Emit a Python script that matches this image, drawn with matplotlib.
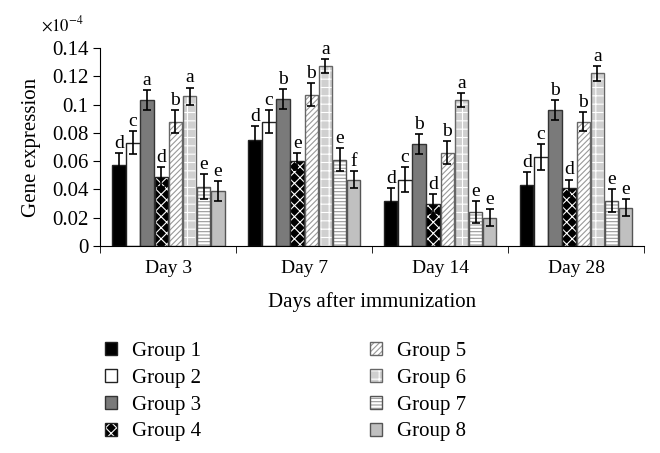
import numpy as np
import matplotlib
matplotlib.use("Agg")
import matplotlib.pyplot as plt
from matplotlib.patches import Patch

plt.rcParams['font.family'] = ['Liberation Serif', 'DejaVu Serif']
plt.rcParams['mathtext.fontset'] = 'stix'
plt.rcParams['hatch.linewidth'] = 0.8

# data (x 1e-4)
days = ["Day 3", "Day 7", "Day 14", "Day 28"]
groups = ["Group 1", "Group 2", "Group 3", "Group 4",
          "Group 5", "Group 6", "Group 7", "Group 8"]

means = [
    [0.057, 0.075, 0.032, 0.043],   # group 1
    [0.073, 0.088, 0.047, 0.063],   # group 2
    [0.103, 0.104, 0.072, 0.096],   # group 3
    [0.049, 0.060, 0.030, 0.041],   # group 4
    [0.088, 0.107, 0.066, 0.088],   # group 5
    [0.106, 0.127, 0.103, 0.122],   # group 6
    [0.042, 0.061, 0.024, 0.032],   # group 7
    [0.039, 0.047, 0.020, 0.027],   # group 8
]
errs = [
    [0.009, 0.010, 0.009, 0.009],
    [0.008, 0.008, 0.009, 0.009],
    [0.007, 0.007, 0.007, 0.007],
    [0.007, 0.006, 0.007, 0.006],
    [0.008, 0.008, 0.008, 0.007],
    [0.006, 0.005, 0.005, 0.005],
    [0.009, 0.008, 0.008, 0.008],
    [0.007, 0.006, 0.006, 0.006],
]
letters = [
    ["d", "d", "d", "d"],
    ["c", "c", "c", "c"],
    ["a", "b", "b", "b"],
    ["d", "e", "d", "d"],
    ["b", "b", "b", "b"],
    ["a", "a", "a", "a"],
    ["e", "e", "e", "e"],
    ["e", "f", "e", "e"],
]
yticks = [0, 0.02, 0.04, 0.06, 0.08, 0.1, 0.12, 0.14]
ytick_labels = ["0", "0.02", "0.04", "0.06", "0.08", "0.1", "0.12", "0.14"]

# styles: face, edge, hatch, hatch colour
styles = [
    ("black", "#222222", None, None),
    ("white", "#222222", None, None),
    ("#7a7a7a", "#333333", None, None),
    ("black", "#222222", "xxx", "white"),
    ("white", "#666666", "//////", "#999999"),
    ("#d0d0d0", "#666666", "++", "white"),
    ("white", "#555555", "-----", "#999999"),
    ("#c0c0c0", "#555555", None, None),
]

fig = plt.figure(figsize=(6.6, 4.53), dpi=100)
ax = fig.add_axes([0.152, 0.457, 0.824, 0.437])

x = np.arange(len(days))
w = 0.104
for i in range(len(groups)):
    face, edge, hatch, hc = styles[i]
    pos = x + (i - 3.5) * w
    bars = ax.bar(pos, means[i], w * 0.95, color=face, edgecolor=edge,
                  linewidth=1.0, hatch=hatch, zorder=2)
    if hc is not None:
        for b in bars:
            b._hatch_color = matplotlib.colors.to_rgba(hc)
    ax.errorbar(pos, means[i], yerr=errs[i], fmt="none", ecolor="black",
                elinewidth=1.2, capsize=3, capthick=1.2, zorder=3)
    for p, m, e, t in zip(pos, means[i], errs[i], letters[i]):
        ax.text(p, m + e + 0.0008, t, ha="center", va="bottom", fontsize=14)

ax.set_xlim(-0.5, 3.5)
ax.set_ylim(0, 0.14)
ax.set_yticks(yticks)
ax.set_yticklabels(ytick_labels, fontsize=15)
ax.set_xticks(x)
ax.set_xticklabels(days, fontsize=14)
ax.tick_params(axis="x", which="major", length=0, pad=10)
ax.set_xticks(np.arange(-0.5, 4, 1), minor=True)
ax.tick_params(axis="x", which="minor", length=5, direction="out")
ax.tick_params(axis="y", length=5, direction="out")
for s in ["top", "right"]:
    ax.spines[s].set_visible(False)
ax.set_ylabel("Gene expression", fontsize=15, labelpad=8)
ax.set_xlabel("Days after immunization", fontsize=15, labelpad=11)
ax.text(-0.03, 1.065, r"$\times10^{-4}$", transform=ax.transAxes,
        ha="right", va="bottom", fontsize=12)

handles = []
for i in range(len(groups)):
    face, edge, hatch, hc = styles[i]
    p = Patch(facecolor=face, edgecolor=edge, hatch=hatch, label=groups[i])
    if hc is not None:
        p._hatch_color = matplotlib.colors.to_rgba(hc)
    handles.append(p)
leg = fig.legend(handles=handles, loc="upper left", ncol=2,
                 bbox_to_anchor=(0.13, 0.287), frameon=False, fontsize=15,
                 handlelength=0.6, handleheight=0.6, handletextpad=0.7,
                 columnspacing=8.1, labelspacing=0.38)

fig.savefig("out.png", dpi=100)
